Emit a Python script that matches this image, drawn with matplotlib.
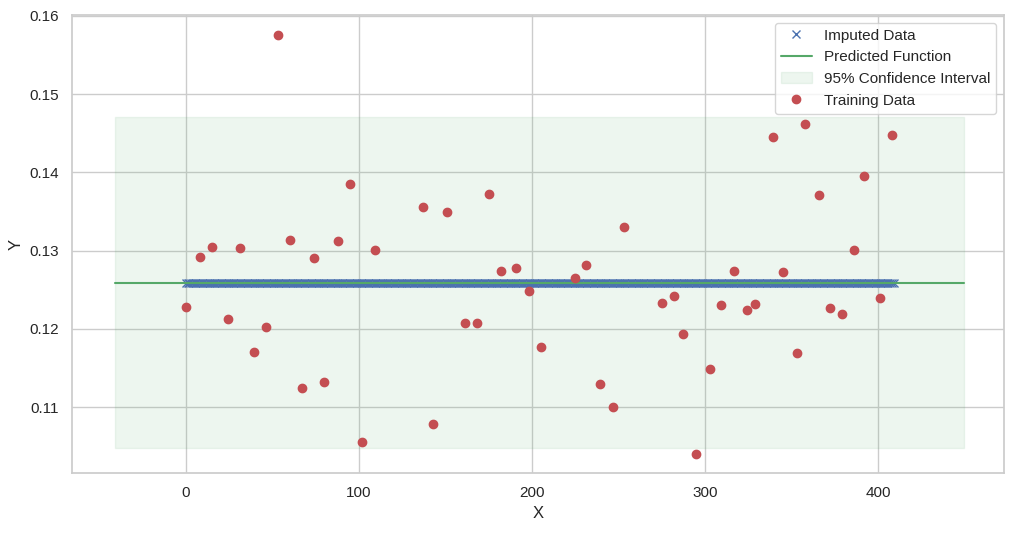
import numpy as np
import matplotlib
matplotlib.use('Agg')
import matplotlib.pyplot as plt
import seaborn as sns

sns.set_theme(style='whitegrid', color_codes=True)
plt.rcParams['font.family'] = ['Liberation Sans', 'DejaVu Sans']

# Training data
x_train = [0, 8, 15, 24, 31, 39, 46, 53, 60, 67, 74, 80, 88, 95, 102, 109,
           137, 143, 151, 161, 168, 175, 182, 191, 198, 205, 225, 231, 239, 247,
           253, 275, 282, 287, 295, 303, 309, 317, 324, 329, 339, 345, 353, 358,
           366, 372, 379, 386, 392, 401, 408]
y_train = [0.1228, 0.1292, 0.1305, 0.1213, 0.1303, 0.1170, 0.1202, 0.1576,
           0.1314, 0.1124, 0.1290, 0.1132, 0.1312, 0.1385, 0.1055, 0.1301,
           0.1356, 0.1078, 0.1350, 0.1208, 0.1207, 0.1372, 0.1274, 0.1278,
           0.1248, 0.1177, 0.1265, 0.1282, 0.1129, 0.1100, 0.1330, 0.1233,
           0.1242, 0.1194, 0.1040, 0.1149, 0.1231, 0.1274, 0.1224, 0.1232,
           0.1445, 0.1273, 0.1169, 0.1462, 0.1371, 0.1227, 0.1219, 0.1301,
           0.1395, 0.1240, 0.1448]

# Imputed points: every integer position, all at the predicted mean
x_imputed = np.arange(0, 410)
mean_value = 0.12587
y_imputed = np.full(len(x_imputed), mean_value)

# Prediction grid and confidence band
x_pred = [-40.9, 449.9]
y_pred = [mean_value, mean_value]
ci_lower = [0.10476, 0.10476]
ci_upper = [0.14706, 0.14706]

fig = plt.figure(figsize=(10.13, 5.33), dpi=100)
ax = fig.add_axes([0.0711, 0.1126, 0.92, 0.8593])

ax.plot(x_imputed, y_imputed, 'bx', label='Imputed Data')
ax.plot(x_pred, y_pred, 'g-', label='Predicted Function')
ax.fill_between(x_pred, ci_lower, ci_upper, color='g', alpha=0.1,
                label='95% Confidence Interval')
ax.plot(x_train, y_train, 'ro', label='Training Data')

ax.set_xlim(-65.9, 472.8)
ax.set_ylim(0.10157, 0.16013)
ax.set_xlabel('X', fontsize=12)
ax.set_ylabel('Y', fontsize=12)
ax.tick_params(labelsize=11)
ax.set_xticks([0, 100, 200, 300, 400])
ax.legend(loc='upper right', fontsize=11)

fig.savefig('out.png', dpi=100)
